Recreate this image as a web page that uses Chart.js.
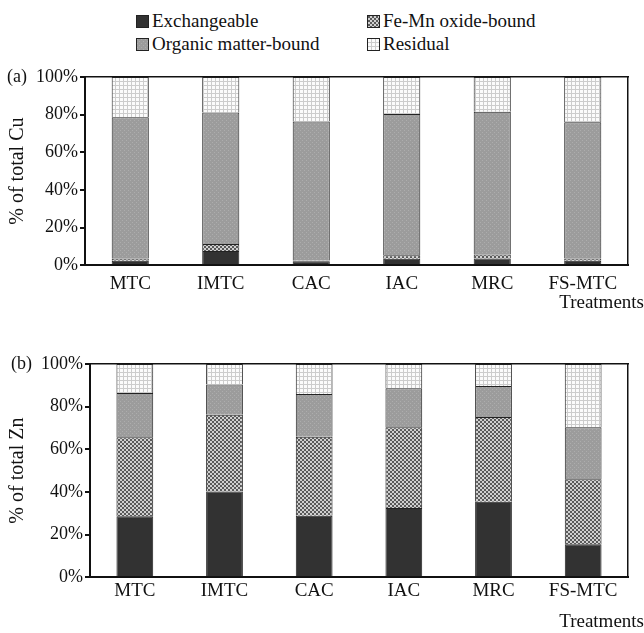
<!DOCTYPE html>
<html>
<head>
<meta charset="utf-8">
<script src="https://cdn.jsdelivr.net/npm/chart.js"></script>
<style>
  body { margin: 0; background: #fff; width: 644px; height: 633px; position: relative; overflow: hidden;
         font-family: 'Liberation Serif', 'Times New Roman', serif; color: #111; }
  canvas { position: absolute; left: 0; }
  .leg { position: absolute; font-size: 19px; line-height: 22px; white-space: nowrap; }
  .leg canvas { position: static; vertical-align: -1px; margin-right: 3px; border: 1px solid #222; }
</style>
</head>
<body>
<div class="leg" style="left:136px; top:10px;"><canvas id="sw0" width="11" height="11"></canvas>Exchangeable</div>
<div class="leg" style="left:367px; top:10px;"><canvas id="sw1" width="11" height="11"></canvas>Fe-Mn oxide-bound</div>
<div class="leg" style="left:136px; top:33px;"><canvas id="sw2" width="11" height="11"></canvas>Organic matter-bound</div>
<div class="leg" style="left:367px; top:33px;"><canvas id="sw3" width="11" height="11"></canvas>Residual</div>
<canvas id="chartCu" width="644" height="255" style="top:62px"></canvas>
<canvas id="chartZn" width="644" height="284" style="top:349px"></canvas>
<script>
// Данные: доли фракций (% от общего содержания)
const categories = ['MTC', 'IMTC', 'CAC', 'IAC', 'MRC', 'FS-MTC'];
const fractions = ['Exchangeable', 'Fe-Mn oxide-bound', 'Organic matter-bound', 'Residual'];
const yTicks = [0, 20, 40, 60, 80, 100];

// (a) Cu
const cuExchangeable = [2.3, 7.6, 2.1, 3.4, 3.5, 2.3];
const cuFeMn = [1.3, 3.6, 0.4, 1.9, 2.2, 1.3];
const cuOrganic = [75.0, 70.0, 73.9, 75.0, 75.9, 72.4];
const cuResidual = [21.4, 18.8, 23.6, 19.7, 18.4, 24.0];

// (b) Zn
const znExchangeable = [28.6, 40.2, 28.8, 32.4, 35.4, 15.5];
const znFeMn = [37.0, 36.0, 37.1, 37.9, 39.7, 30.4];
const znOrganic = [20.8, 14.2, 20.0, 18.3, 14.6, 24.4];
const znResidual = [13.6, 9.6, 14.1, 11.4, 10.3, 29.7];

Chart.defaults.font.family = "'Liberation Serif', 'Times New Roman', serif";
Chart.defaults.font.size = 18;
Chart.defaults.color = '#111';

// Штриховки для фракций
function makePattern(kind) {
  const c = document.createElement('canvas');
  c.width = 4; c.height = 4;
  const g = c.getContext('2d');
  if (kind === 0) {
    g.fillStyle = '#323232'; g.fillRect(0, 0, 4, 4);
  } else if (kind === 1) {
    g.fillStyle = '#d0d0d0'; g.fillRect(0, 0, 4, 4);
    g.fillStyle = '#5a5a5a'; g.fillRect(0, 0, 2, 2); g.fillRect(2, 2, 2, 2);
  } else if (kind === 2) {
    g.fillStyle = '#9c9c9c'; g.fillRect(0, 0, 4, 4);
    g.fillStyle = '#adadad'; g.fillRect(0, 0, 1, 1); g.fillRect(2, 2, 1, 1);
  } else {
    g.fillStyle = '#fbfbfb'; g.fillRect(0, 0, 4, 4);
    g.fillStyle = '#cccccc'; g.fillRect(0, 3, 4, 1); g.fillRect(3, 0, 1, 4);
  }
  return g.createPattern(c, 'repeat');
}
const patterns = [0, 1, 2, 3].map(makePattern);

// Квадратики легенды
[0, 1, 2, 3].forEach(i => {
  const sw = document.getElementById('sw' + i).getContext('2d');
  sw.fillStyle = patterns[i];
  sw.fillRect(0, 0, 11, 11);
});

function buildChart(id, series, yTitle, panel, opt) {
  new Chart(document.getElementById(id), {
    type: 'bar',
    data: {
      labels: categories,
      datasets: series.map((vals, i) => ({
        label: fractions[i],
        data: vals,
        backgroundColor: patterns[i],
        borderColor: '#222',
        borderWidth: 1,
        barPercentage: 0.41,
        categoryPercentage: 1
      }))
    },
    options: {
      responsive: false,
      animation: false,
      layout: { padding: { top: 15, left: 0, right: 0, bottom: opt.bottomPad } },
      plugins: {
        legend: { display: false },
        tooltip: { enabled: false },
        title: {
          display: true,
          text: 'Treatments',
          position: 'bottom',
          align: 'end',
          color: '#111',
          font: { size: 19, weight: 'normal' },
          padding: { top: 0, bottom: 0 }
        }
      },
      scales: {
        x: {
          stacked: true,
          grid: { display: false, drawTicks: false },
          border: { display: true, color: '#111', width: 2 },
          ticks: { padding: opt.xPad, color: '#111', font: { size: 19 } },
          afterFit: s => { s.height = opt.xHeight; }
        },
        xTop: {
          position: 'top',
          grid: { display: false, drawTicks: false },
          border: { display: true, color: '#111', width: 1.5 },
          ticks: { display: false },
          afterFit: s => { s.height = 0; }
        },
        y: {
          stacked: true,
          min: 0,
          max: 100,
          afterBuildTicks: s => { s.ticks = yTicks.map(v => ({ value: v })); },
          grid: { drawOnChartArea: false, drawTicks: true, tickLength: 5, color: '#111', lineWidth: 2 },
          border: { display: true, color: '#111', width: 2 },
          ticks: {
            padding: 2,
            color: '#111',
            font: { size: 18 },
            callback: v => (v === 100 ? panel + '  100%' : v + '%')
          },
          title: {
            display: true,
            text: yTitle,
            color: '#111',
            font: { size: 20 },
            padding: { top: 6, bottom: 0 }
          },
          afterFit: s => { s.width = opt.yWidth; }
        },
        yRight: {
          position: 'right',
          min: 0,
          max: 100,
          grid: { display: false, drawTicks: false },
          border: { display: true, color: '#111', width: 1.5 },
          ticks: { display: false },
          afterFit: s => { s.width = 16; }
        }
      }
    }
  });
}

buildChart('chartCu', [cuExchangeable, cuFeMn, cuOrganic, cuResidual], '% of total Cu', '(a)',
  { yWidth: 85, xHeight: 26, xPad: 7, bottomPad: 3 });
buildChart('chartZn', [znExchangeable, znFeMn, znOrganic, znResidual], '% of total Zn', '(b)',
  { yWidth: 90, xHeight: 33, xPad: 2, bottomPad: 0 });
</script>
</body>
</html>
